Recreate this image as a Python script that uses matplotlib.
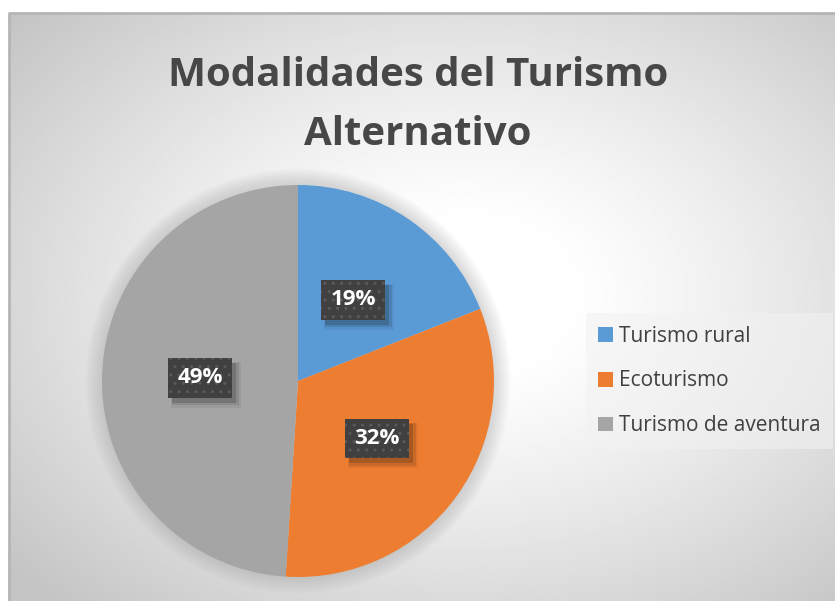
import matplotlib as mpl
mpl.use("Agg")
import matplotlib.pyplot as plt
from matplotlib.patches import Circle, Rectangle
import numpy as np

categorias = ["Turismo rural", "Ecoturismo", "Turismo de aventura"]
porcentajes = [19, 32, 49]
colores = ["#5B9BD5", "#ED7D31", "#A5A5A5"]
titulo = "Modalidades del Turismo\nAlternativo"

W, H = 835, 601
fig = plt.figure(figsize=(W / 100, H / 100), dpi=100)
fig.patch.set_facecolor("white")

# fondo con degradado radial
x0, y0 = 9, 13
bg = fig.add_axes([x0 / W, 0, 1 - x0 / W, (H - y0) / H])
bg.set_axis_off()
gx, gy = np.meshgrid(np.linspace(0, 1, 400), np.linspace(0, 1, 300))
d = np.sqrt((gx - 0.55) ** 2 + (gy - 0.48) ** 2)
t = np.clip((d - 0.12) / 0.6, 0, 1)
val = 1.0 - 0.23 * t ** 1.2
bg.imshow(val, cmap="gray", vmin=0, vmax=1, aspect="auto", extent=[0, 1, 0, 1],
          interpolation="bilinear")
bg.set_xlim(0, 1)
bg.set_ylim(0, 1)
bg.plot([0, 0, 1], [0, 1, 1], color="#b5b5b5", lw=2.0, clip_on=False)

# pastel
cx, cy, r = 298, 381, 196
ax = fig.add_axes([(cx - r) / W, (H - cy - r) / H, 2 * r / W, 2 * r / H])
for k in range(1, 13):
    ax.add_patch(Circle((0, 0), 1 + k * 0.007, fc="#9a9a9a", ec="none",
                        alpha=0.03, zorder=0, clip_on=False))
wedges, texts, autotexts = ax.pie(
    porcentajes, colors=colores, startangle=90, counterclock=False,
    autopct="%d%%", pctdistance=0.5, radius=1,
    textprops=dict(color="white", fontsize=16, fontweight="bold", family="Open Sans"),
)
ax.set_xlim(-1, 1)
ax.set_ylim(-1, 1)
ax.set_axis_off()

for t in autotexts:
    t.set_bbox(dict(boxstyle="square,pad=0.42", fc="#404040", ec="#5a5a5a", lw=0, hatch=".."))
    t.set_zorder(5)

fig.text(418 / W, 1 - 105 / H, titulo, ha="center", va="center", fontsize=29,
         fontweight="bold", color="#474747", family="Open Sans", linespacing=1.66)

leg = ax.legend(wedges, categorias, loc="center left",
                bbox_to_anchor=(586 / W, (H - 381) / H), bbox_transform=fig.transFigure,
                borderaxespad=0, frameon=True, fancybox=False,
                prop=dict(family="Open Sans", size=15),
                handlelength=0.7, handleheight=0.7, handletextpad=0.3,
                labelspacing=1.15, borderpad=0.58)
leg.get_frame().set_facecolor("#f2f2f2")
leg.get_frame().set_alpha(0.55)
leg.get_frame().set_edgecolor("none")
for tx in leg.get_texts():
    tx.set_color("#404040")

# sombras de las etiquetas (en pixeles, despues de dibujar)
fig.canvas.draw()
for t in autotexts:
    bb = t.get_bbox_patch().get_window_extent()
    for dx, dy, grow, a in [(6, -7, 3, 0.06), (5, -6, 1.5, 0.1), (4, -5, 0, 0.16)]:
        ax.add_patch(Rectangle((bb.x0 + dx - grow, bb.y0 + dy - grow),
                               bb.width + 2 * grow, bb.height + 2 * grow,
                               transform=None, fc="black", ec="none",
                               alpha=a, zorder=4, clip_on=False))

fig.savefig("out.png", dpi=100)
